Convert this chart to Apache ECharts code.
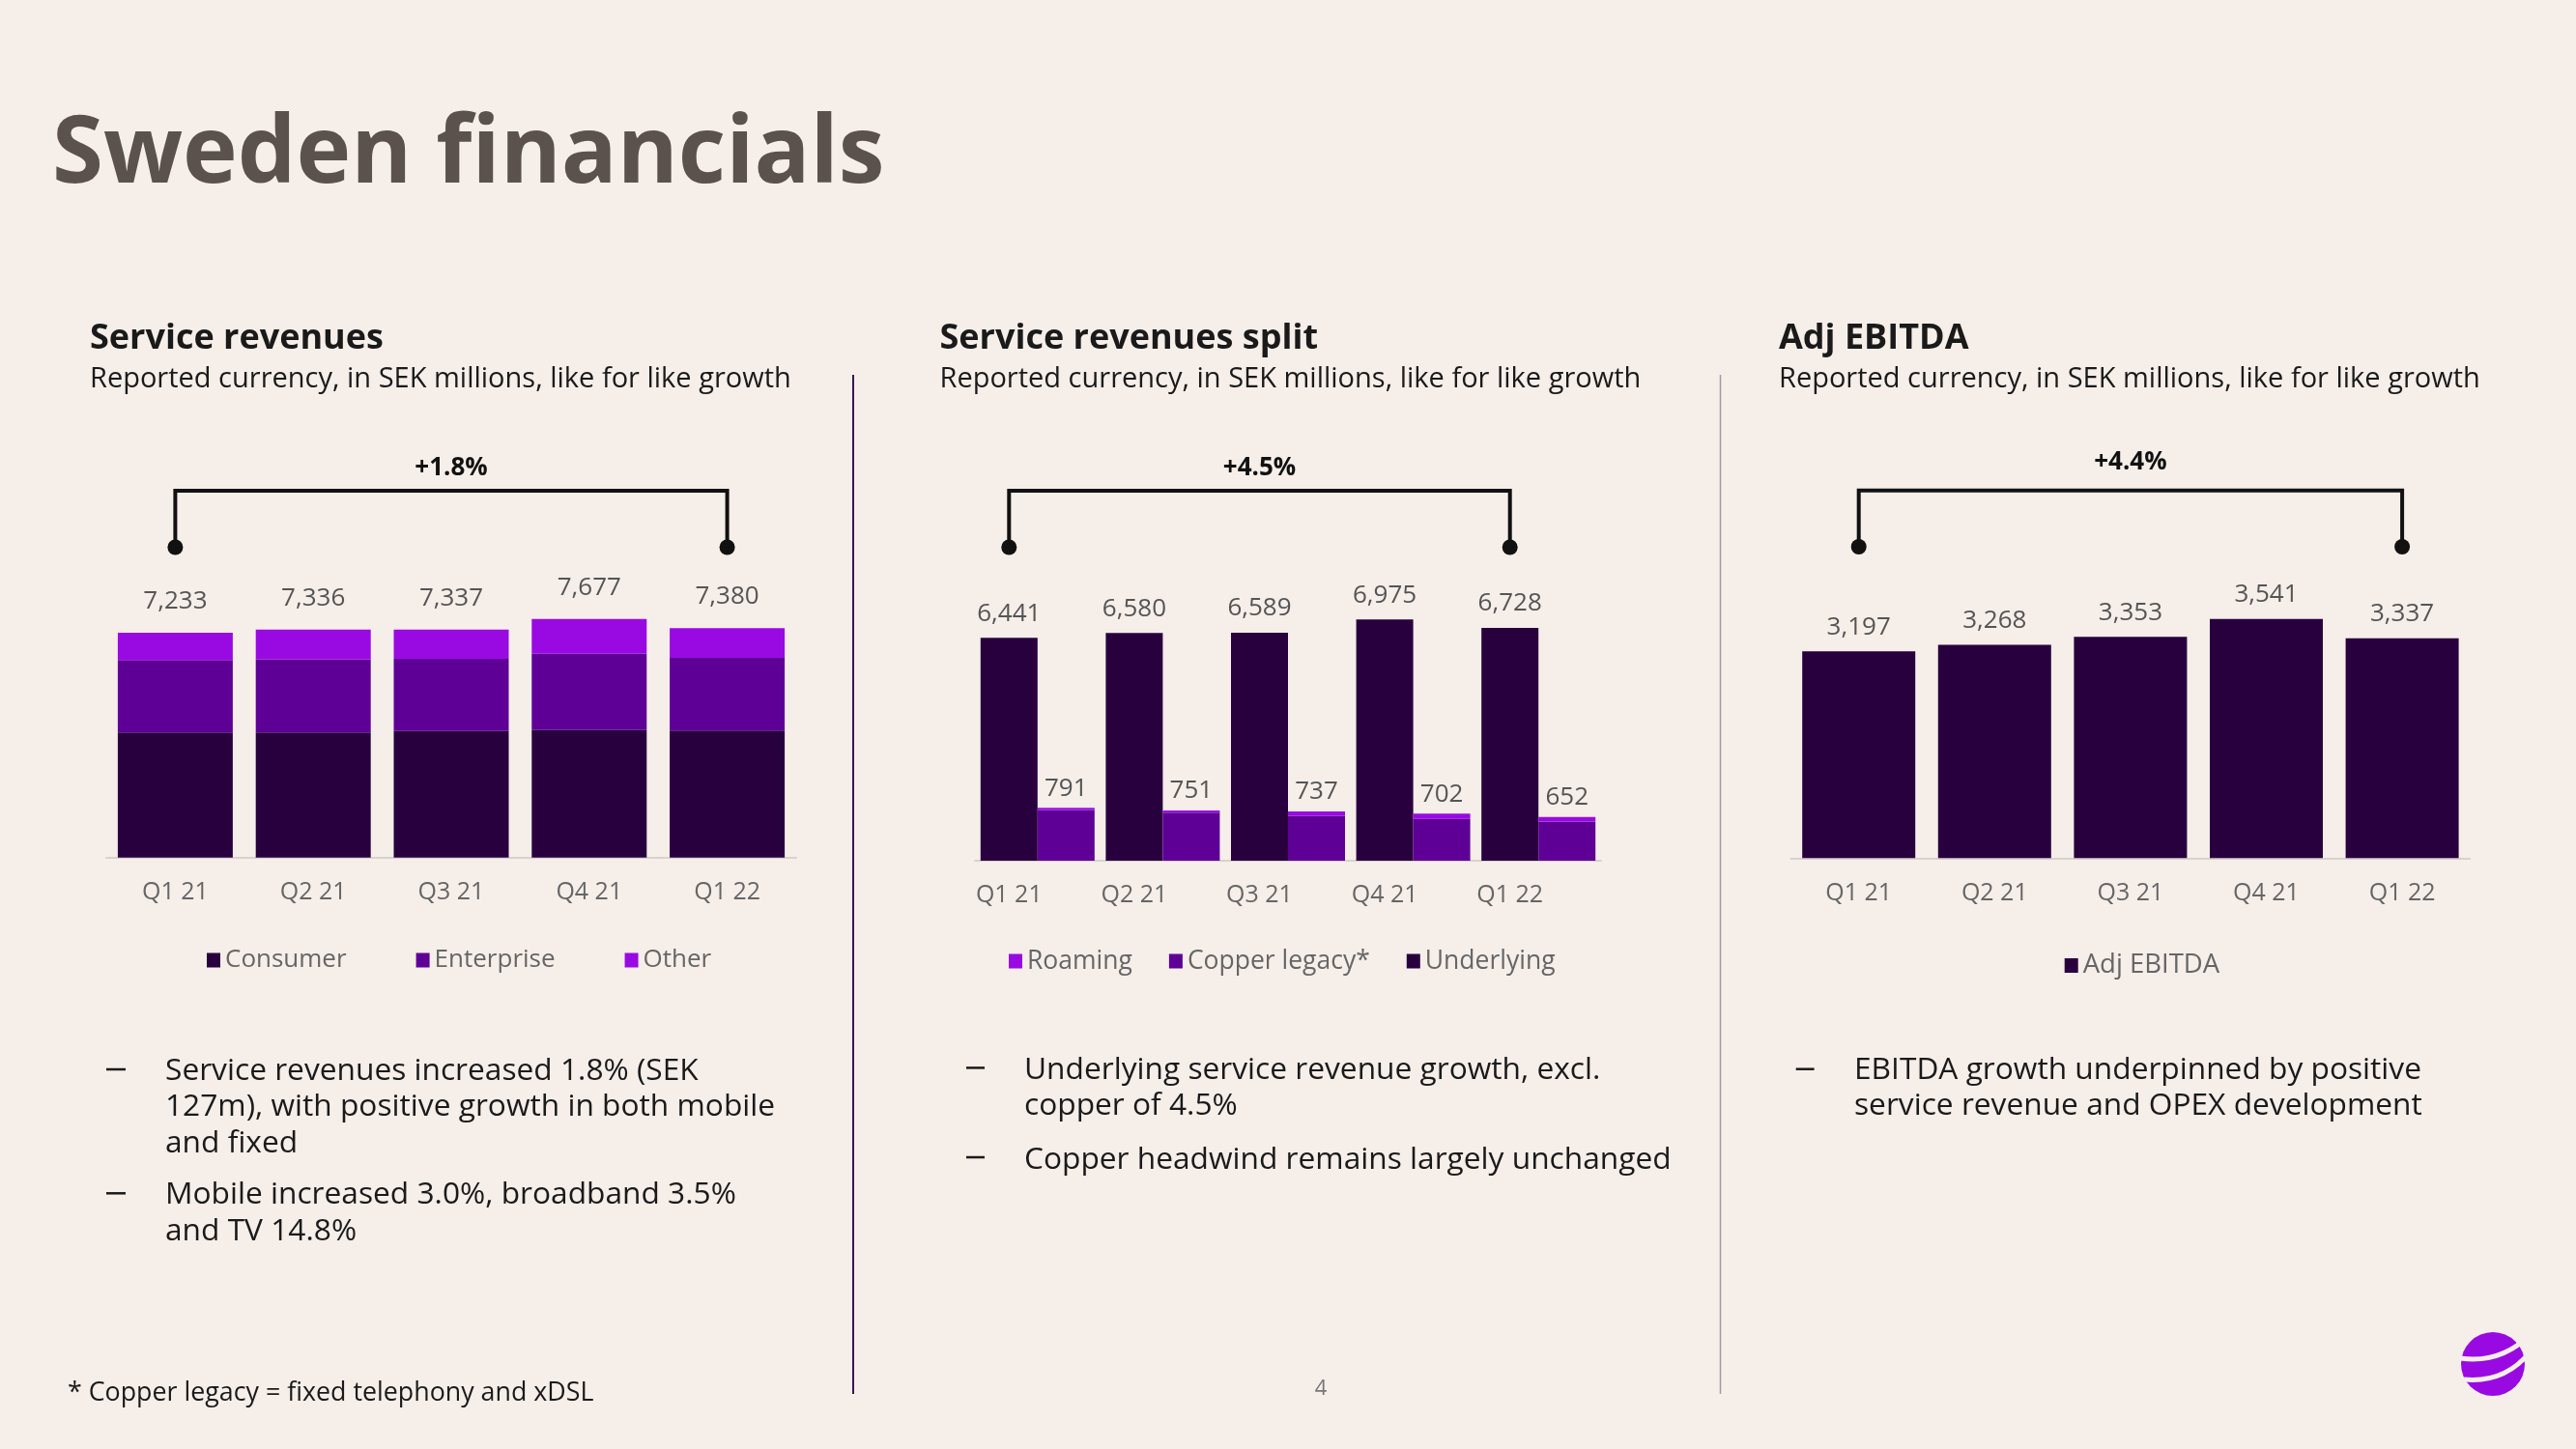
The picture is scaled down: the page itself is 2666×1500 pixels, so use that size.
<!DOCTYPE html>
<html>
<head>
<meta charset="utf-8">
<script src="https://cdn.jsdelivr.net/npm/echarts@6/dist/echarts.min.js"></script>
<style>
html,body{margin:0;padding:0;background:#f6eee9;}
#c{width:2666px;height:1500px;}
</style>
</head>
<body>
<div id="c"></div>
<script>
// ---------- data ----------
const categories = ['Q1 21', 'Q2 21', 'Q3 21', 'Q4 21', 'Q1 22'];
// Service revenues (stacked segments)
const consumer   = [4022, 4022, 4072, 4103, 4085];
const enterprise = [2331, 2350, 2322, 2456, 2341];
const other      = [880, 964, 943, 1118, 954];
// Service revenues split
const underlying   = [6441, 6580, 6589, 6975, 6728];
const copperLegacy = [753, 718, 671, 624, 585];
const roaming      = [38, 33, 66, 78, 67];
// Adj EBITDA
const adjEbitda = [3197, 3268, 3353, 3541, 3337];
// growth annotations
const growth = ['+1.8%', '+4.5%', '+4.4%'];
// legends
const legend1 = ['Consumer', 'Enterprise', 'Other'];
const legend2 = ['Roaming', 'Copper legacy*', 'Underlying'];
const legend3 = ['Adj EBITDA'];

// ---------- style ----------
const FONT = '"Open Sans", "Noto Sans", sans-serif';
const DARK = '#29003e', MID = '#5e0096', LIGHT = '#990ae3';
const INK = '#1a1a1a', GREY = '#666666', LABEL = '#555555';
const fmt = v => v.toLocaleString('en-US');

const chart = echarts.init(document.getElementById('c'), null, {renderer: 'canvas'});

function xAxis(gridIndex, extra) {
  return Object.assign({
    type: 'category', gridIndex, data: categories,
    axisTick: {show: false},
    axisLine: {lineStyle: {color: '#d8d2ce', width: 2}},
    axisLabel: {color: GREY, fontSize: 25, fontFamily: FONT, margin: 24}
  }, extra || {});
}
function yAxis(gridIndex, min, max) {
  return {type: 'value', gridIndex, min, max, show: false, splitLine: {show: false}};
}
function legend(data, left, top, fontSize, gap) {
  return {
    data, left, top, padding: 0, itemGap: gap, icon: 'rect',
    itemWidth: 14, itemHeight: 15, selectedMode: false,
    textStyle: {color: GREY, fontSize, fontFamily: FONT}
  };
}
const valLabel = (distance, formatter) => ({
  show: true, position: 'top', distance, color: LABEL,
  fontSize: 26, fontFamily: FONT, formatter
});

chart.setOption({
  backgroundColor: '#f6eee9',
  animation: false,
  grid: [
    {left: 110, top: 630.3, width: 714, height: 257.4},
    {left: 1009, top: 640.3, width: 648, height: 250.7},
    {left: 1853.4, top: 615.6, width: 703, height: 272.7}
  ],
  xAxis: [
    xAxis(0),
    xAxis(1, {axisLabel: {color: GREY, fontSize: 25, fontFamily: FONT, margin: 23, padding: [0, 59, 0, 0]}}),
    xAxis(2)
  ],
  yAxis: [
    yAxis(0, 0, 8000),
    yAxis(1, 0, 7000),
    yAxis(1, 0, 3618),
    yAxis(2, 1000, 3800)
  ],
  legend: [
    legend(legend1, 214, 981, 26, 72),
    legend(legend2, 1044, 981.5, 26.5, 38),
    legend(legend3, 2136.7, 985.5, 27.5, 30)
  ],
  series: [
    {type: 'bar', name: 'Consumer', xAxisIndex: 0, yAxisIndex: 0, stack: 'sr', barWidth: 119,
     data: consumer, itemStyle: {color: DARK}},
    {type: 'bar', name: 'Enterprise', xAxisIndex: 0, yAxisIndex: 0, stack: 'sr', barWidth: 119,
     data: enterprise, itemStyle: {color: MID}},
    {type: 'bar', name: 'Other', xAxisIndex: 0, yAxisIndex: 0, stack: 'sr', barWidth: 119,
     data: other, itemStyle: {color: LIGHT},
     label: valLabel(19.5, p => fmt(consumer[p.dataIndex] + enterprise[p.dataIndex] + other[p.dataIndex]))},

    {type: 'bar', name: 'Underlying', xAxisIndex: 1, yAxisIndex: 1, barWidth: 59, barGap: '0%',
     data: underlying, itemStyle: {color: DARK},
     label: valLabel(12, p => fmt(p.value))},
    {type: 'bar', name: 'Copper legacy*', xAxisIndex: 1, yAxisIndex: 2, stack: 'legacy', barWidth: 59, barGap: '0%',
     data: copperLegacy, itemStyle: {color: MID}},
    {type: 'bar', name: 'Roaming', xAxisIndex: 1, yAxisIndex: 2, stack: 'legacy', barWidth: 59, barGap: '0%',
     data: roaming, itemStyle: {color: LIGHT},
     label: valLabel(7, p => fmt(copperLegacy[p.dataIndex] + roaming[p.dataIndex]))},

    {type: 'bar', name: 'Adj EBITDA', xAxisIndex: 2, yAxisIndex: 3, barWidth: 117,
     data: adjEbitda, itemStyle: {color: DARK},
     label: valLabel(12, p => fmt(p.value))}
  ]
});

// ---------- annotations / page text ----------
function txt(x, y, text, font, fill, align, vAlign, lineHeight) {
  const style = {x, y, text, font, fill, align: align || 'left', verticalAlign: vAlign || 'middle',
                 textAlign: align || 'left', textVerticalAlign: vAlign || 'middle'};
  if (lineHeight) style.lineHeight = lineHeight;
  return {type: 'text', silent: true, style};
}
function bracket(x0, x1, yLine, yDot, label, yLabel) {
  return [
    {type: 'polyline', silent: true,
     shape: {points: [[x0, yDot], [x0, yLine], [x1, yLine], [x1, yDot]]},
     style: {stroke: '#111111', lineWidth: 4, fill: null, lineJoin: 'miter'}},
    {type: 'circle', silent: true, shape: {cx: x0, cy: yDot, r: 8}, style: {fill: '#111111'}},
    {type: 'circle', silent: true, shape: {cx: x1, cy: yDot, r: 8}, style: {fill: '#111111'}},
    txt((x0 + x1) / 2, yLabel, label, 'bold 26px ' + FONT, '#111111', 'center', 'middle')
  ];
}
function dash(x0, x1, y) {
  return {type: 'line', silent: true, shape: {x1: x0, y1: y, x2: x1, y2: y},
          style: {stroke: INK, lineWidth: 2.5}};
}

const first = categories[0], last = categories[categories.length - 1];
const px = (axis, cat) => chart.convertToPixel({xAxisIndex: axis}, cat);
const half2 = 29.5; // half of the bar width in the split chart

const TITLE = 'bold 96px ' + FONT;
const H2 = 'bold 36px ' + FONT;
const SUB = '29px ' + FONT;
const BODY = '31.7px ' + FONT;

const g = [];
g.push(txt(54, 162, 'Sweden financials', TITLE, '#5b524d', 'left', 'middle'));

g.push(txt(93, 351, 'Service revenues', H2, INK));
g.push(txt(93, 393, 'Reported currency, in SEK millions, like for like growth', SUB, INK));
g.push(txt(972.5, 351, 'Service revenues split', H2, INK));
g.push(txt(972.5, 393, 'Reported currency, in SEK millions, like for like growth', SUB, INK));
g.push(txt(1841, 351, 'Adj EBITDA', H2, INK));
g.push(txt(1841, 393, 'Reported currency, in SEK millions, like for like growth', SUB, INK));

g.push(...bracket(px(0, first), px(0, last), 508, 566.5, growth[0], 485));
g.push(...bracket(px(1, first) - half2, px(1, last) - half2, 508, 566.5, growth[1], 485));
g.push(...bracket(px(2, first), px(2, last), 507.7, 566, growth[2], 478.5));

// bullets
g.push(dash(110, 130, 1107));
g.push(txt(171, 1090, 'Service revenues increased 1.8% (SEK\n127m), with positive growth in both mobile\nand fixed', BODY, INK, 'left', 'top', 37.5));
g.push(dash(110, 130, 1235.3));
g.push(txt(171, 1218.5, 'Mobile increased 3.0%, broadband 3.5%\nand TV 14.8%', BODY, INK, 'left', 'top', 37.5));

g.push(dash(1000, 1019, 1105.4));
g.push(txt(1060, 1089.5, 'Underlying service revenue growth, excl.\ncopper of 4.5%', BODY, INK, 'left', 'top', 37));
g.push(dash(1000, 1019, 1198));
g.push(txt(1060, 1182, 'Copper headwind remains largely unchanged', BODY, INK, 'left', 'top', 37));

g.push(dash(1858.7, 1877.6, 1106.7));
g.push(txt(1919, 1089, 'EBITDA growth underpinned by positive\nservice revenue and OPEX development', BODY, INK, 'left', 'top', 37.5));

// dividers
g.push({type: 'line', silent: true, shape: {x1: 883, y1: 388, x2: 883, y2: 1443}, style: {stroke: '#3a1450', lineWidth: 2}});
g.push({type: 'line', silent: true, shape: {x1: 1780.5, y1: 388, x2: 1780.5, y2: 1443}, style: {stroke: '#a89ba5', lineWidth: 1.5}});

// footnote, page number
g.push(txt(70, 1442, '* Copper legacy = fixed telephony and xDSL', '26.8px ' + FONT, INK, 'left', 'middle'));
g.push(txt(1367, 1438, '4', '22px ' + FONT, '#777777', 'center', 'middle'));

// logo
g.push({type: 'circle', silent: true, shape: {cx: 2580, cy: 1412, r: 33}, style: {fill: LIGHT}});
g.push({type: 'bezierCurve', silent: true,
        shape: {x1: 2546, y1: 1406, x2: 2618, y2: 1382, cpx1: 2588, cpy1: 1412},
        style: {stroke: '#f6eee9', lineWidth: 5, fill: null}});
g.push({type: 'bezierCurve', silent: true,
        shape: {x1: 2550, y1: 1428, x2: 2618, y2: 1400, cpx1: 2592, cpy1: 1432},
        style: {stroke: '#f6eee9', lineWidth: 5, fill: null}});

chart.setOption({graphic: g});
</script>
</body>
</html>
